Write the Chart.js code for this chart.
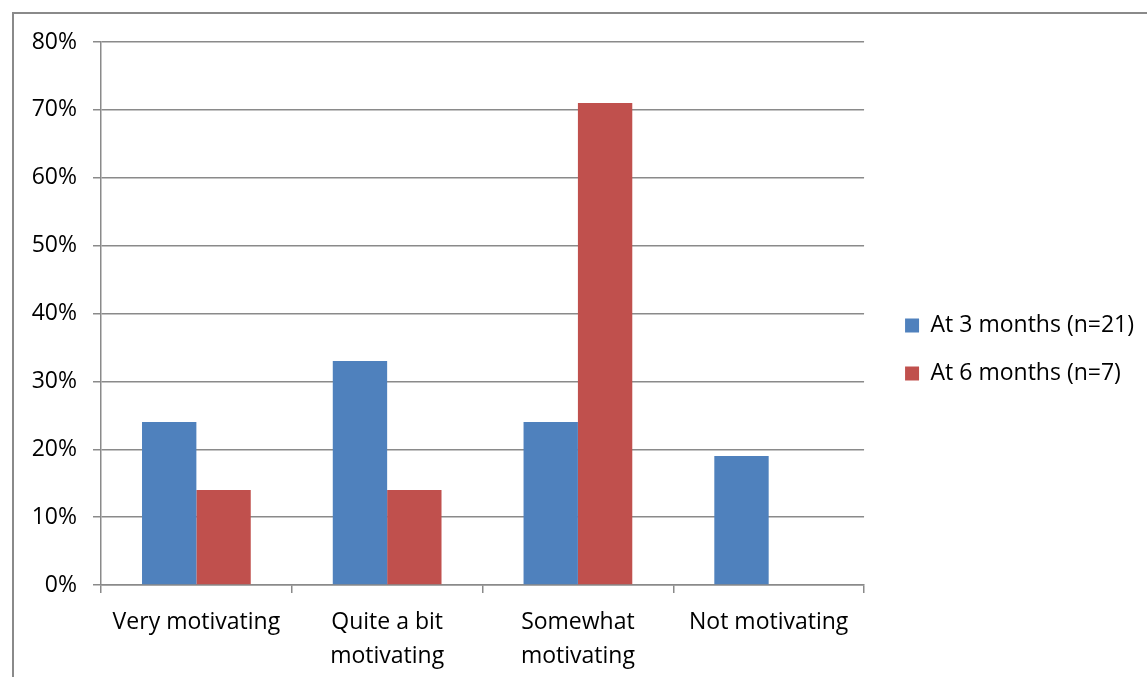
<!DOCTYPE html>
<html><head><meta charset="utf-8">
<script src="https://cdn.jsdelivr.net/npm/chart.js@4/dist/chart.umd.min.js"></script>
<style>html,body{margin:0;padding:0;background:#fff;}#wrap{width:1147px;height:677px;}</style>
</head><body><div id="wrap"><canvas id="c" width="1147" height="677"></canvas></div>
<script>
const categories = [["Very motivating"], ["Quite a bit", "motivating"], ["Somewhat", "motivating"], ["Not motivating"]];
const seriesNames = ["At 3 months (n=21)", "At 6 months (n=7)"];
const at3Months = [24, 33, 24, 19];
const at6Months = [14, 14, 71, 0];
const yTickLabels = ["0%", "10%", "20%", "30%", "40%", "50%", "60%", "70%", "80%"];
const seriesColors = ["#4F81BD", "#C0504D"];

const lineGray = "#8a8a8a";
const fontSize = 23;
Chart.defaults.font.family = "'Open Sans', 'Noto Sans', sans-serif";
Chart.defaults.font.size = fontSize;
Chart.defaults.color = "#000";

const frame = {
  id: "frame",
  beforeDraw(chart) {
    const ctx = chart.ctx;
    ctx.save();
    ctx.fillStyle = "#fff";
    ctx.fillRect(0, 0, chart.width, chart.height);
    ctx.strokeStyle = lineGray;
    ctx.lineWidth = 2;
    ctx.strokeRect(13, 13, chart.width + 50, chart.height + 50);
    ctx.restore();
  }
};
const legendShift = {
  id: "legendShift",
  afterLayout(chart) {
    const l = chart.legend;
    l.left += 16; l.right += 16;
    l.top -= 10; l.bottom -= 10;
  }
};

new Chart(document.getElementById("c"), {
  type: "bar",
  data: {
    labels: categories,
    datasets: [
      { label: seriesNames[0], data: at3Months, backgroundColor: seriesColors[0] },
      { label: seriesNames[1], data: at6Months, backgroundColor: seriesColors[1] }
    ]
  },
  options: {
    responsive: false,
    animation: false,
    devicePixelRatio: 1,
    layout: { padding: { left: 0, top: 42, right: 19, bottom: 0 } },
    datasets: { bar: { categoryPercentage: 0.57, barPercentage: 1.0 } },
    plugins: {
      legend: {
        position: "right",
        labels: { boxWidth: 14, boxHeight: 14, padding: 25, font: { size: fontSize }, color: "#000" }
      },
      tooltip: { enabled: false }
    },
    scales: {
      x: {
        offset: true,
        grid: { offset: true, drawOnChartArea: false, drawTicks: true, tickLength: 8, color: lineGray, lineWidth: 1.5 },
        border: { color: lineGray, width: 1.5 },
        ticks: { padding: 12, maxRotation: 0, autoSkip: false, font: { size: fontSize, lineHeight: 1.48 } },
        afterFit(s) { s.height = 92; }
      },
      y: {
        min: 0, max: 80,
        grid: { color: lineGray, lineWidth: 1.5, tickLength: 8 },
        border: { color: lineGray, width: 1.5 },
        ticks: { stepSize: 10, padding: 16, callback: (v) => yTickLabels[Math.round(v / 10)] },
        afterFit(s) { s.width = 101; }
      }
    }
  },
  plugins: [frame, legendShift]
});
</script></body></html>
